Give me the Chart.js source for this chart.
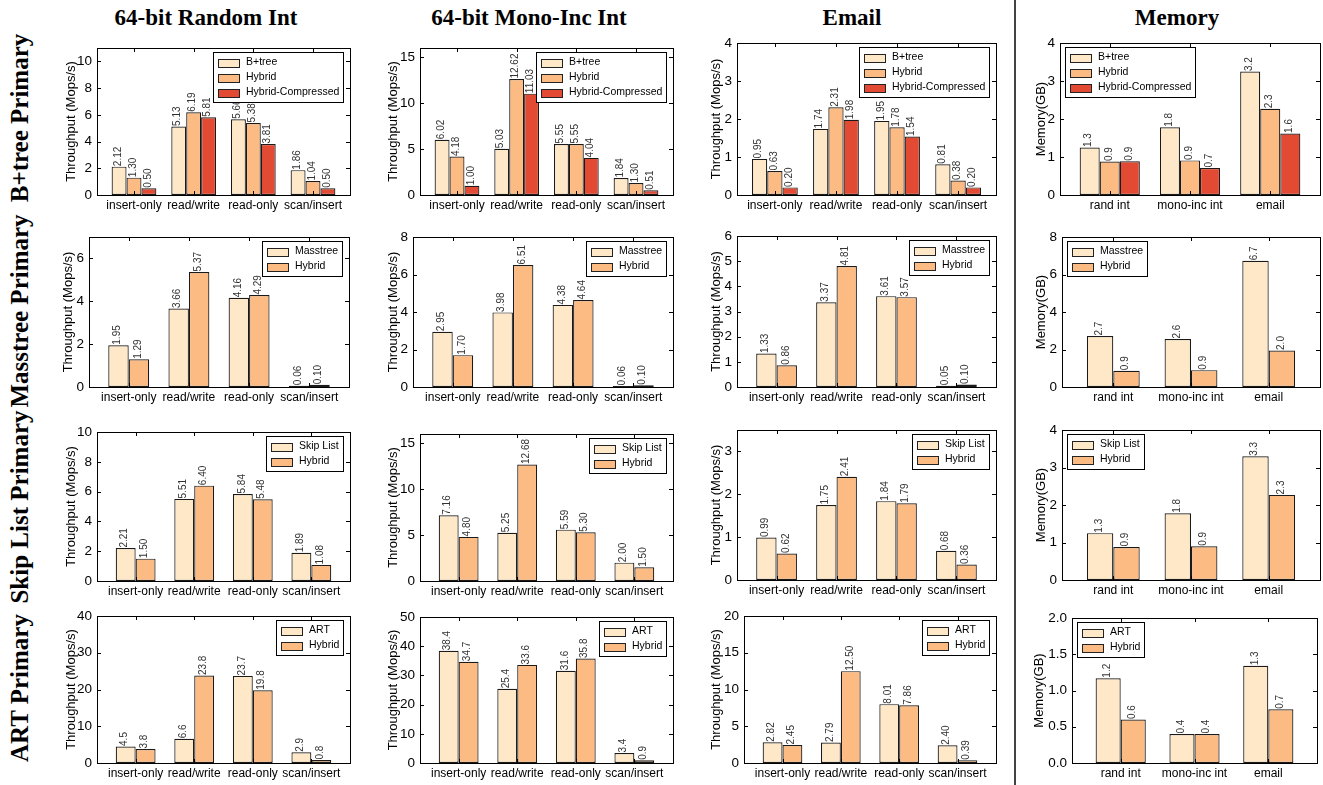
<!DOCTYPE html>
<html>
<head>
<meta charset="utf-8">
<script src="https://cdn.jsdelivr.net/npm/chart.js@4.4.1/dist/chart.umd.min.js"></script>
<style>
    body { margin: 0; background: #fff; }
    #page { position: relative; width: 1323px; height: 785px; overflow: hidden; background: #fff; }
    canvas { position: absolute; }
    .col-title { position: absolute; top: 18px; transform: translate(-50%, -50%); font: bold 23px "Liberation Serif", "Times New Roman", serif; white-space: nowrap; }
    .row-label { position: absolute; left: 20px; transform: translate(-50%, -50%) rotate(-90deg); font: bold 25px "Liberation Serif", "Times New Roman", serif; white-space: nowrap; }
    .divider { position: absolute; left: 1014px; top: 0; width: 2px; height: 785px; background: #444; }
</style>
</head>
<body>
<div id="page">
    <div class="col-title" style="left:206px">64-bit Random Int</div>
    <div class="col-title" style="left:529px">64-bit Mono-Inc Int</div>
    <div class="col-title" style="left:852px">Email</div>
    <div class="col-title" style="left:1177px">Memory</div>
    <div class="row-label" style="top:118px">B+tree Primary</div>
    <div class="row-label" style="top:311px">Masstree Primary</div>
    <div class="row-label" style="top:507px">Skip List Primary</div>
    <div class="row-label" style="top:688px">ART Primary</div>
    <div class="divider"></div>
</div>
<script>
// ---- categories ----
const workloads = ['insert-only', 'read/write', 'read-only', 'scan/insert'];
const keyTypes = ['rand int', 'mono-inc int', 'email'];

// ---- legend names ----
const btNames = ['B+tree', 'Hybrid', 'Hybrid-Compressed'];
const mtNames = ['Masstree', 'Hybrid'];
const slNames = ['Skip List', 'Hybrid'];
const artNames = ['ART', 'Hybrid'];

// ---- B+tree primary (Mops/s, GB) ----
const btRandBase = [2.12, 5.13, 5.66, 1.86];
const btRandHyb = [1.30, 6.19, 5.38, 1.04];
const btRandComp = [0.50, 5.81, 3.81, 0.50];
const btMonoBase = [6.02, 5.03, 5.55, 1.84];
const btMonoHyb = [4.18, 12.62, 5.55, 1.30];
const btMonoComp = [1.00, 11.03, 4.04, 0.51];
const btEmailBase = [0.95, 1.74, 1.95, 0.81];
const btEmailHyb = [0.63, 2.31, 1.78, 0.38];
const btEmailComp = [0.20, 1.98, 1.54, 0.20];
const btMemBase = [1.25, 1.78, 3.25];
const btMemHyb = [0.88, 0.91, 2.27];
const btMemComp = [0.89, 0.71, 1.62];
const btMemBaseTags = ['1.3', '1.8', '3.2'];
const btMemHybTags = ['0.9', '0.9', '2.3'];
const btMemCompTags = ['0.9', '0.7', '1.6'];

// ---- Masstree primary ----
const mtRandBase = [1.95, 3.66, 4.16, 0.06];
const mtRandHyb = [1.29, 5.37, 4.29, 0.10];
const mtMonoBase = [2.95, 3.98, 4.38, 0.06];
const mtMonoHyb = [1.70, 6.51, 4.64, 0.10];
const mtEmailBase = [1.33, 3.37, 3.61, 0.05];
const mtEmailHyb = [0.86, 4.81, 3.57, 0.10];
const mtMemBase = [2.72, 2.56, 6.73];
const mtMemHyb = [0.87, 0.90, 1.95];
const mtMemBaseTags = ['2.7', '2.6', '6.7'];
const mtMemHybTags = ['0.9', '0.9', '2.0'];

// ---- Skip List primary ----
const slRandBase = [2.21, 5.51, 5.84, 1.89];
const slRandHyb = [1.50, 6.40, 5.48, 1.08];
const slMonoBase = [7.16, 5.25, 5.59, 2.00];
const slMonoHyb = [4.80, 12.68, 5.30, 1.50];
const slEmailBase = [0.99, 1.75, 1.84, 0.68];
const slEmailHyb = [0.62, 2.41, 1.79, 0.36];
const slMemBase = [1.25, 1.78, 3.30];
const slMemHyb = [0.88, 0.90, 2.27];
const slMemBaseTags = ['1.3', '1.8', '3.3'];
const slMemHybTags = ['0.9', '0.9', '2.3'];

// ---- ART primary ----
const artRandBase = [4.5, 6.6, 23.7, 2.9];
const artRandHyb = [3.8, 23.8, 19.8, 0.8];
const artMonoBase = [38.4, 25.4, 31.6, 3.4];
const artMonoHyb = [34.7, 33.6, 35.8, 0.9];
const artEmailBase = [2.82, 2.79, 8.01, 2.40];
const artEmailHyb = [2.45, 12.50, 7.86, 0.39];
const artMemBase = [1.17, 0.40, 1.34];
const artMemHyb = [0.60, 0.40, 0.74];
const artMemBaseTags = ['1.2', '0.4', '1.3'];
const artMemHybTags = ['0.6', '0.4', '0.7'];

const palette = ['#fee8c8', '#fdbb84', '#e34a33'];
const TP = 'Throughput (Mops/s)';
const MEM = 'Memory(GB)';
const SANS = '"Liberation Sans", Arial, Helvetica, sans-serif';

/**
 * Panel list, row by row. box = [left, top, right, bottom, yTitleX] of the plot area on the page
 */
const panels = [
    { box: [97, 48, 350, 195, 71], cats: workloads, names: btNames, series: [btRandBase, btRandHyb, btRandComp], max: 11, step: 2, dec: 2, title: TP },
    { box: [420, 48, 673, 195, 393], cats: workloads, names: btNames, series: [btMonoBase, btMonoHyb, btMonoComp], max: 16, step: 5, dec: 2, title: TP },
    { box: [737, 43, 996, 195, 716], cats: workloads, names: btNames, series: [btEmailBase, btEmailHyb, btEmailComp], max: 4, step: 1, dec: 2, title: TP },
    { box: [1060, 43, 1320, 195, 1041], cats: keyTypes, names: btNames, series: [btMemBase, btMemHyb, btMemComp], tags: [btMemBaseTags, btMemHybTags, btMemCompTags], max: 4, step: 1, title: MEM, legendLeft: true },

    { box: [89, 237, 349, 387, 68], cats: workloads, names: mtNames, series: [mtRandBase, mtRandHyb], max: 7, step: 2, dec: 2, title: TP },
    { box: [413, 237, 673, 387, 393], cats: workloads, names: mtNames, series: [mtMonoBase, mtMonoHyb], max: 8, step: 2, dec: 2, title: TP },
    { box: [737, 236, 996, 387, 716], cats: workloads, names: mtNames, series: [mtEmailBase, mtEmailHyb], max: 6, step: 1, dec: 2, title: TP },
    { box: [1062, 237, 1320, 387, 1041], cats: keyTypes, names: mtNames, series: [mtMemBase, mtMemHyb], tags: [mtMemBaseTags, mtMemHybTags], max: 8, step: 2, title: MEM, legendLeft: true },

    { box: [97, 432, 350, 581, 71], cats: workloads, names: slNames, series: [slRandBase, slRandHyb], max: 10, step: 2, dec: 2, title: TP },
    { box: [420, 434, 673, 581, 393], cats: workloads, names: slNames, series: [slMonoBase, slMonoHyb], max: 16, step: 5, dec: 2, title: TP },
    { box: [737, 430, 996, 580, 716], cats: workloads, names: slNames, series: [slEmailBase, slEmailHyb], max: 3.5, step: 1, dec: 2, title: TP },
    { box: [1062, 430, 1320, 580, 1041], cats: keyTypes, names: slNames, series: [slMemBase, slMemHyb], tags: [slMemBaseTags, slMemHybTags], max: 4, step: 1, title: MEM, legendLeft: true },

    { box: [97, 616, 350, 763, 71], cats: workloads, names: artNames, series: [artRandBase, artRandHyb], max: 40, step: 10, dec: 1, title: TP },
    { box: [420, 617, 673, 763, 393], cats: workloads, names: artNames, series: [artMonoBase, artMonoHyb], max: 50, step: 10, dec: 1, title: TP },
    { box: [744, 616, 996, 763, 716], cats: workloads, names: artNames, series: [artEmailBase, artEmailHyb], max: 20, step: 5, dec: 2, title: TP },
    { box: [1072, 618, 1317, 763, 1039], cats: keyTypes, names: artNames, series: [artMemBase, artMemHyb], tags: [artMemBaseTags, artMemHybTags], max: 2, step: 0.5, tickDec: 1, title: MEM, legendLeft: true }
];

/**
 * Frame, inward ticks, y title, value tags and boxed legend
 */
const decorPlugin = {
    id: 'decor',
    afterDatasetsDraw(chart) {
        const { ctx } = chart;
        const o = chart.options.plugins.decor;
        ctx.save();
        ctx.font = '10px ' + SANS;
        ctx.fillStyle = '#333';
        ctx.textAlign = 'left';
        ctx.textBaseline = 'middle';
        chart.data.datasets.forEach((ds, k) => {
            chart.getDatasetMeta(k).data.forEach((bar, j) => {
                ctx.save();
                ctx.translate(bar.x - 1, bar.y - 0.5);
                ctx.rotate(-Math.PI / 2);
                ctx.fillText(o.tags[k][j], 0, 0);
                ctx.restore();
            });
        });
        ctx.restore();
    },
    afterDraw(chart) {
        const { ctx, chartArea: a, scales } = chart;
        const o = chart.options.plugins.decor;
        ctx.save();

        // inward tick marks on all four sides
        ctx.strokeStyle = '#000';
        ctx.lineWidth = 1;
        ctx.beginPath();
        scales.y.ticks.forEach(t => {
            const py = Math.round(scales.y.getPixelForValue(t.value)) + 0.5;
            ctx.moveTo(a.left, py); ctx.lineTo(a.left + 4, py);
            ctx.moveTo(a.right, py); ctx.lineTo(a.right - 4, py);
        });
        scales.x.ticks.forEach(t => {
            const px = Math.round(scales.x.getPixelForValue(t.value)) + 0.5;
            ctx.moveTo(px, a.top); ctx.lineTo(px, a.top + 4);
            ctx.moveTo(px, a.bottom); ctx.lineTo(px, a.bottom - 4);
        });
        ctx.stroke();
        ctx.strokeRect(Math.round(a.left) + 0.5, Math.round(a.top) + 0.5, Math.round(a.right - a.left), Math.round(a.bottom - a.top));

        // y axis title
        ctx.fillStyle = '#000';
        ctx.font = '13px ' + SANS;
        ctx.textAlign = 'center';
        ctx.textBaseline = 'middle';
        ctx.save();
        ctx.translate(o.titleX, (a.top + a.bottom) / 2);
        ctx.rotate(-Math.PI / 2);
        ctx.fillText(o.title, 0, 0);
        ctx.restore();

        // boxed legend
        ctx.font = '10.5px ' + SANS;
        const tw = Math.max(...o.names.map(n => ctx.measureText(n).width));
        const w = Math.round(37 + tw);
        const h = Math.round(o.names.length * 15 + 5);
        const x0 = Math.round(o.legendLeft ? a.left + 5 : a.right - 7 - w);
        const y0 = Math.round(a.top + 4);
        ctx.fillStyle = '#fff';
        ctx.fillRect(x0, y0, w, h);
        ctx.strokeStyle = '#000';
        ctx.strokeRect(x0 + 0.5, y0 + 0.5, w, h);
        ctx.textAlign = 'left';
        o.names.forEach((n, k) => {
            const cy = y0 + 10.5 + k * 15;
            ctx.fillStyle = palette[k];
            ctx.fillRect(x0 + 5, Math.round(cy - 4), 21, 8);
            ctx.strokeStyle = '#222';
            ctx.strokeRect(x0 + 5.5, Math.round(cy - 4) + 0.5, 21, 8);
            ctx.fillStyle = '#000';
            ctx.fillText(n, x0 + 33, cy);
        });
        ctx.restore();
    }
};

const Figure = {
    /**
     * Build one subplot canvas so its plot area lands on p.box
     */
    buildPanel(p) {
        const [l, t, r, b, tx] = p.box;
        const cx = tx - 12, cy = t - 14;
        const cw = r - cx + 8, ch = b - cy + 24;

        const canvas = document.createElement('canvas');
        canvas.width = cw;
        canvas.height = ch;
        canvas.style.left = cx + 'px';
        canvas.style.top = cy + 'px';
        canvas.style.width = cw + 'px';
        canvas.style.height = ch + 'px';
        document.getElementById('page').appendChild(canvas);

        const nBars = p.series.length;
        const pad = nBars === 3 ? 0.62 : 0.66;
        const catPct = nBars === 3 ? 0.75 : 0.68;
        const tags = p.tags || p.series.map(vals => vals.map(v => v.toFixed(p.dec)));

        return new Chart(canvas, {
            type: 'bar',
            data: {
                datasets: p.series.map((vals, k) => ({
                    label: p.names[k],
                    data: vals.map((v, j) => ({ x: j, y: v })),
                    backgroundColor: palette[k],
                    borderColor: '#1a1a1a',
                    borderWidth: 1.2,
                    borderSkipped: false,
                    categoryPercentage: catPct,
                    barPercentage: 1
                }))
            },
            options: {
                responsive: false,
                animation: false,
                devicePixelRatio: 1,
                layout: { padding: { left: 0, top: t - cy, right: cw - (r - cx), bottom: 0 } },
                scales: {
                    x: {
                        type: 'linear',
                        offset: false,
                        min: -pad,
                        max: p.cats.length - 1 + pad,
                        grid: { display: false, drawTicks: false },
                        border: { display: false },
                        afterBuildTicks: s => { s.ticks = p.cats.map((c, i) => ({ value: i })); },
                        afterFit: s => { s.height = ch - (b - cy); },
                        ticks: {
                            autoSkip: false,
                            maxRotation: 0,
                            padding: 3,
                            color: '#000',
                            font: { family: SANS, size: 12 },
                            callback: v => p.cats[v]
                        }
                    },
                    y: {
                        min: 0,
                        max: p.max,
                        grid: { display: false, drawTicks: false },
                        border: { display: false },
                        afterFit: s => { s.width = l - cx; },
                        ticks: {
                            stepSize: p.step,
                            includeBounds: false,
                            padding: 5,
                            color: '#000',
                            font: { family: SANS, size: 13.5 },
                            callback: v => p.tickDec ? v.toFixed(p.tickDec) : v
                        }
                    }
                },
                plugins: {
                    legend: { display: false },
                    tooltip: { enabled: false },
                    decor: {
                        tags: tags,
                        names: p.names,
                        title: p.title,
                        titleX: tx - cx,
                        legendLeft: !!p.legendLeft
                    }
                }
            },
            plugins: [decorPlugin]
        });
    },

    init() {
        panels.forEach(p => this.buildPanel(p));
    }
};

Figure.init();
</script>
</body>
</html>
